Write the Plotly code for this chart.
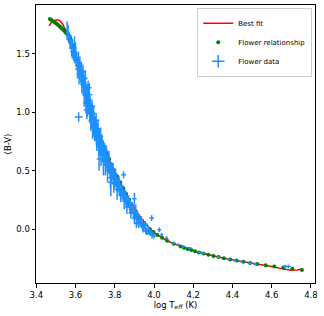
import plotly.graph_objects as go

# Best-fit curve
fit_x = [3.465, 3.475, 3.49, 3.505, 3.52, 3.535, 3.55, 3.565, 3.58, 3.60, 3.62, 3.644, 3.665,
         3.686, 3.71, 3.734, 3.765, 3.798, 3.835, 3.874, 3.925, 3.979, 4.02, 4.067, 4.136,
         4.229, 4.30, 4.356, 4.44, 4.526, 4.60, 4.66, 4.70, 4.73, 4.757]
fit_y = [1.74, 1.765, 1.785, 1.792, 1.785, 1.755, 1.70, 1.64, 1.59, 1.505, 1.39, 1.25, 1.125,
         1.0, 0.87, 0.75, 0.62, 0.5, 0.37, 0.25, 0.115, 0.0, -0.055, -0.10, -0.15,
         -0.20, -0.228, -0.25, -0.275, -0.298, -0.32, -0.343, -0.352, -0.350, -0.342]

# Flower relationship points
rel_bv = [1.80, 1.79, 1.78, 1.77, 1.76, 1.75, 1.74, 1.73, 1.72, 1.71, 1.70, 1.69, 1.68, 1.67,
          1.66, 1.65, 1.64, 1.62, 1.60, 1.575, 1.55, 1.5, 1.45, 1.4, 1.35, 1.3, 1.25, 1.2,
          1.15, 1.1, 1.05, 1.0, 0.95, 0.9, 0.85, 0.8, 0.75, 0.7, 0.65, 0.6, 0.55, 0.5, 0.45,
          0.4, 0.35, 0.3, 0.25, 0.2, 0.15, 0.1, 0.05, 0.0, -0.025, -0.05, -0.075, -0.1,
          -0.125, -0.15, -0.16, -0.17, -0.18, -0.19, -0.20, -0.21, -0.22, -0.23, -0.24,
          -0.25, -0.26, -0.27, -0.28, -0.29, -0.30, -0.31, -0.32, -0.33, -0.34, -0.35]
rel_logt = [3.469, 3.477, 3.485, 3.494, 3.502, 3.510, 3.517, 3.523, 3.529, 3.536, 3.542, 3.547,
            3.553, 3.558, 3.563, 3.568, 3.572, 3.577, 3.577, 3.583, 3.589, 3.601, 3.610, 3.619,
            3.627, 3.636, 3.644, 3.652, 3.660, 3.668, 3.677, 3.686, 3.695, 3.704, 3.713, 3.723,
            3.734, 3.746, 3.759, 3.772, 3.785, 3.798, 3.813, 3.828, 3.843, 3.858, 3.874, 3.890,
            3.908, 3.927, 3.950, 3.979, 3.997, 4.017, 4.041, 4.067, 4.100, 4.136, 4.153, 4.171,
            4.190, 4.209, 4.229, 4.253, 4.277, 4.303, 4.329, 4.356, 4.388, 4.421, 4.455, 4.490,
            4.526, 4.569, 4.613, 4.659, 4.705, 4.754]

# Flower data with uncertainties
data_x = [3.557, 3.565, 3.572, 3.58, 3.585, 3.59, 3.596, 3.60, 3.607, 3.612, 3.615, 3.62, 3.624,
          3.628, 3.63, 3.634, 3.636, 3.64, 3.642, 3.645, 3.648, 3.65, 3.652, 3.655, 3.656, 3.658,
          3.66, 3.662, 3.665, 3.667, 3.669, 3.672, 3.675, 3.677, 3.68, 3.682, 3.685, 3.688, 3.69,
          3.693, 3.696, 3.70, 3.703, 3.706, 3.71, 3.713, 3.716, 3.72, 3.724, 3.728, 3.732, 3.737,
          3.74, 3.745, 3.75, 3.755, 3.76, 3.766, 3.77, 3.776, 3.782, 3.786, 3.792, 3.798, 3.803,
          3.81, 3.816, 3.82, 3.826, 3.833, 3.838, 3.845, 3.852, 3.858, 3.865, 3.87, 3.878, 3.885,
          3.89, 3.895, 3.902, 3.907, 3.912, 3.918, 3.925, 3.93, 3.938, 3.945, 3.95, 3.958, 3.965,
          3.972, 3.98, 3.99, 4.00, 3.616, 3.845, 3.988, 4.027, 3.66, 3.67, 3.64, 3.72, 3.78, 3.90,
          3.91, 4.039, 4.064, 4.098, 4.123, 4.149, 4.183, 4.234, 4.251, 4.328, 4.379, 4.413,
          4.447, 4.489, 4.515, 4.668, 4.685,
          3.562, 3.575, 3.583, 3.595, 3.603, 3.61, 3.622, 3.618, 3.632, 3.638, 3.644, 3.65,
          3.653, 3.664, 3.668, 3.658, 3.673, 3.678, 3.684, 3.687, 3.692, 3.698, 3.705, 3.708,
          3.715, 3.718, 3.725, 3.73, 3.735, 3.742, 3.748, 3.752, 3.758, 3.763, 3.772, 3.778,
          3.788, 3.795, 3.806, 3.812, 3.822, 3.83, 3.84, 3.848, 3.856, 3.862, 3.875, 3.882,
          3.893, 3.90, 3.915, 3.922, 3.935, 3.942, 3.955, 3.962, 3.975, 3.985]
data_y = [1.70, 1.64, 1.60, 1.55, 1.58, 1.50, 1.47, 1.52, 1.43, 1.40, 1.45, 1.36, 1.39, 1.31,
          1.34, 1.27, 1.30, 1.22, 1.26, 1.19, 1.23, 1.16, 1.20, 1.13, 1.17, 1.10, 1.14, 1.06,
          1.11, 1.03, 1.08, 1.00, 1.04, 0.97, 1.01, 0.94, 0.98, 0.91, 0.95, 0.88, 0.92, 0.85,
          0.89, 0.82, 0.79, 0.84, 0.76, 0.78, 0.72, 0.75, 0.69, 0.66, 0.70, 0.63, 0.60, 0.62,
          0.57, 0.54, 0.58, 0.51, 0.48, 0.52, 0.45, 0.43, 0.46, 0.40, 0.38, 0.41, 0.35, 0.33,
          0.31, 0.29, 0.27, 0.25, 0.22, 0.24, 0.19, 0.17, 0.20, 0.14, 0.12, 0.15, 0.10, 0.08,
          0.10, 0.06, 0.04, 0.01, 0.03, -0.01, -0.03, 0.00, -0.04, -0.05, -0.06, 0.96, 0.465,
          0.094, -0.006, 1.08, 1.15, 1.28, 0.60, 0.40, 0.26, 0.05, -0.049, -0.077, -0.12,
          -0.134, -0.149, -0.163, -0.197, -0.205, -0.24, -0.257, -0.271, -0.28, -0.291, -0.30,
          -0.32, -0.32,
          1.68, 1.62, 1.52, 1.55, 1.46, 1.37, 1.42, 1.33, 1.24, 1.35, 1.15, 1.29,
          1.08, 1.21, 1.12, 1.02, 1.07, 0.93, 1.05, 0.87, 0.99, 0.83, 0.93, 0.77,
          0.86, 0.71, 0.79, 0.64, 0.73, 0.58, 0.67, 0.55, 0.64, 0.50, 0.55, 0.44,
          0.49, 0.39, 0.42, 0.34, 0.37, 0.29, 0.33, 0.24, 0.28, 0.19, 0.21, 0.14,
          0.17, 0.09, 0.12, 0.05, 0.08, 0.02, 0.04, -0.02, -0.02, -0.03]
data_xerr = [0.004, 0.006, 0.008, 0.01, 0.006, 0.008, 0.01, 0.006, 0.008, 0.012, 0.006, 0.01,
             0.008, 0.012, 0.006, 0.01, 0.014, 0.008, 0.012, 0.01, 0.016, 0.008, 0.01, 0.012,
             0.02, 0.01, 0.008, 0.014, 0.01, 0.012, 0.008, 0.01, 0.014, 0.008, 0.01, 0.012,
             0.01, 0.008, 0.014, 0.01, 0.008, 0.012, 0.01, 0.008, 0.012, 0.01, 0.008, 0.014,
             0.01, 0.008, 0.012, 0.01, 0.008, 0.01, 0.012, 0.008, 0.01, 0.012, 0.008, 0.01,
             0.012, 0.008, 0.01, 0.012, 0.008, 0.01, 0.014, 0.008, 0.01, 0.012, 0.008, 0.01,
             0.012, 0.008, 0.01, 0.012, 0.01, 0.008, 0.012, 0.01, 0.008, 0.012, 0.01, 0.008,
             0.012, 0.01, 0.008, 0.01, 0.012, 0.01, 0.008, 0.01, 0.012, 0.01, 0.008, 0.02,
             0.012, 0.012, 0.01, 0.018, 0.016, 0.014, 0.012, 0.014, 0.012, 0.01, 0.008, 0.008,
             0.01, 0.008, 0.008, 0.01, 0.01, 0.008, 0.008, 0.01, 0.01, 0.008, 0.012, 0.01,
             0.01, 0.012, 0.01,
             0.008, 0.01, 0.012, 0.008, 0.012, 0.01, 0.014, 0.01, 0.016, 0.01, 0.012, 0.014,
             0.018, 0.012, 0.016, 0.014, 0.012, 0.016, 0.01, 0.014, 0.012, 0.016, 0.01, 0.014,
             0.012, 0.016, 0.012, 0.014, 0.012, 0.016, 0.01, 0.014, 0.012, 0.014, 0.012, 0.014,
             0.012, 0.014, 0.012, 0.014, 0.012, 0.014, 0.012, 0.014, 0.012, 0.014, 0.012, 0.014,
             0.012, 0.014, 0.012, 0.014, 0.012, 0.014, 0.012, 0.014, 0.012, 0.014]
data_yerr = [0.08, 0.05, 0.06, 0.07, 0.04, 0.06, 0.05, 0.08, 0.05, 0.06, 0.07, 0.08, 0.05,
             0.06, 0.09, 0.05, 0.07, 0.06, 0.1, 0.05, 0.07, 0.08, 0.06, 0.09, 0.05, 0.07, 0.1,
             0.06, 0.08, 0.05, 0.07, 0.09, 0.06, 0.07, 0.05, 0.08, 0.1, 0.06, 0.07, 0.09, 0.05,
             0.08, 0.06, 0.1, 0.07, 0.05, 0.09, 0.06, 0.08, 0.12, 0.07, 0.09, 0.05, 0.08, 0.06,
             0.1, 0.07, 0.06, 0.09, 0.07, 0.08, 0.05, 0.07, 0.09, 0.06, 0.08, 0.06, 0.04, 0.07,
             0.05, 0.06, 0.04, 0.06, 0.05, 0.04, 0.05, 0.06, 0.04, 0.03, 0.05, 0.04, 0.06, 0.04,
             0.05, 0.03, 0.04, 0.03, 0.04, 0.03, 0.03, 0.02, 0.03, 0.02, 0.03, 0.02, 0.04, 0.03,
             0.025, 0.02, 0.12, 0.1, 0.08, 0.1, 0.12, 0.05, 0.04, 0.015, 0.015, 0.012, 0.012,
             0.012, 0.01, 0.01, 0.01, 0.01, 0.01, 0.01, 0.01, 0.012, 0.012, 0.015, 0.015,
             0.07, 0.05, 0.06, 0.1, 0.07, 0.08, 0.06, 0.09, 0.08, 0.06, 0.1, 0.07,
             0.09, 0.06, 0.12, 0.08, 0.07, 0.09, 0.06, 0.1, 0.07, 0.08, 0.06, 0.1,
             0.08, 0.09, 0.07, 0.1, 0.08, 0.12, 0.07, 0.09, 0.06, 0.1, 0.08, 0.09,
             0.07, 0.08, 0.06, 0.09, 0.07, 0.06, 0.05, 0.07, 0.05, 0.06, 0.05, 0.05,
             0.04, 0.05, 0.04, 0.04, 0.03, 0.04, 0.03, 0.03, 0.02, 0.02]

FONT = "DejaVu Sans"
BLUE = "#1e90ff"

fig = go.Figure()
fig.add_trace(go.Scatter(x=fit_x, y=fit_y, mode="lines", name="Best fit",
                         line=dict(color="red", width=1.5)))
fig.add_trace(go.Scatter(x=rel_logt, y=rel_bv, mode="markers", name="Flower relationship",
                         marker=dict(color="green", size=4)))
fig.add_trace(go.Scatter(x=data_x, y=data_y, mode="markers", name="Flower data",
                         showlegend=False, legendgroup="fd",
                         marker=dict(color=BLUE, size=1),
                         error_x=dict(type="data", array=data_xerr, color=BLUE, thickness=1.5, width=0),
                         error_y=dict(type="data", array=data_yerr, color=BLUE, thickness=1.5, width=0)))
fig.add_trace(go.Scatter(x=[None], y=[None], mode="markers", name="Flower data", legendgroup="fd",
                         marker=dict(symbol="cross-thin", size=9, color=BLUE,
                                     line=dict(color=BLUE, width=1.5))))

axis_common = dict(showgrid=False, zeroline=False, showline=True, linecolor="black", linewidth=1,
                   mirror=True, ticks="outside", ticklen=3.5, tickwidth=0.8, tickcolor="black",
                   automargin=False,
                   tickfont=dict(family=FONT, size=8.5, color="black"))
fig.update_xaxes(range=[3.3985, 4.8205], tickvals=[3.4, 3.6, 3.8, 4.0, 4.2, 4.4, 4.6, 4.8],
                 ticktext=["3.4", "3.6", "3.8", "4.0", "4.2", "4.4", "4.6", "4.8"],
                 title=dict(text="log T<sub><i>eff</i></sub> (K)", standoff=2,
                            font=dict(family=FONT, size=8.5, color="black")),
                 **axis_common)
fig.update_yaxes(range=[-0.462, 1.919], tickvals=[0.0, 0.5, 1.0, 1.5],
                 ticktext=["0.0", "0.5", "1.0", "1.5"],
                 title=dict(text="(B-V)", standoff=3, font=dict(family=FONT, size=8.5, color="black")),
                 **axis_common)
fig.update_layout(width=324, height=316, margin=dict(l=36, r=9, t=5, b=33),
                  plot_bgcolor="white", paper_bgcolor="white",
                  legend=dict(x=0.99, y=0.99, xanchor="right", yanchor="top",
                              bgcolor="rgba(255,255,255,0.8)", bordercolor="#cccccc", borderwidth=1,
                              font=dict(family=FONT, size=7, color="black"),
                              itemwidth=30, tracegroupgap=0))
fig.write_html("out.html", config={"displayModeBar": False},
               post_script="document.body.style.margin='0';document.body.style.padding='0';")
